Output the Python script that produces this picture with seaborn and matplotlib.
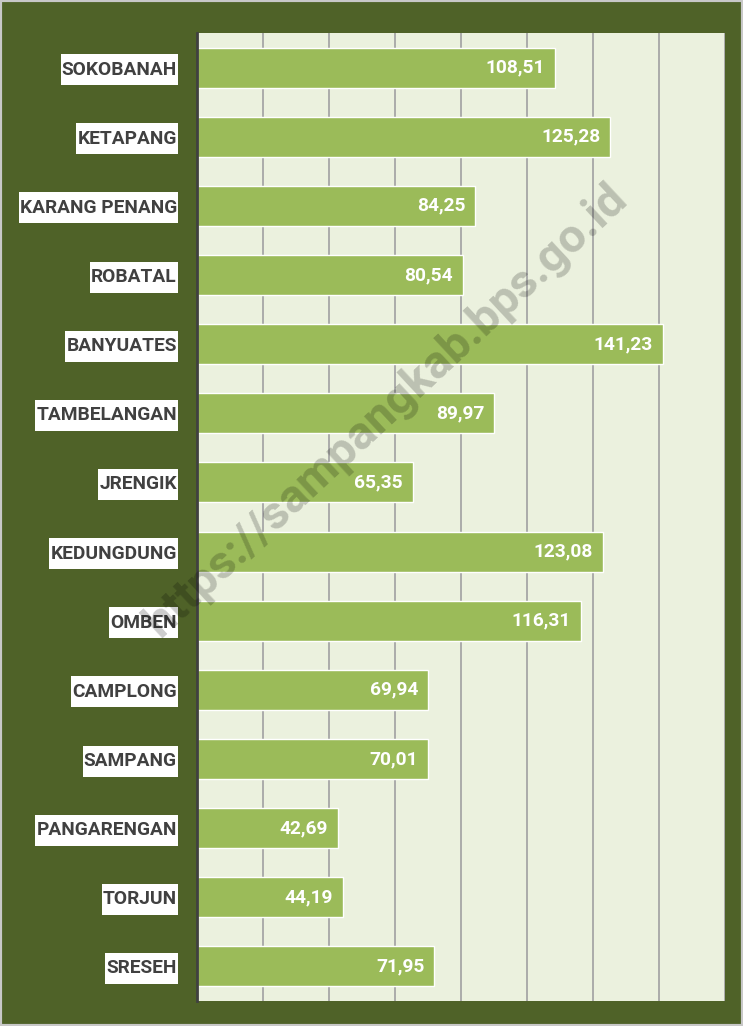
import matplotlib
matplotlib.use("Agg")
import matplotlib.pyplot as plt
import seaborn as sns
import pandas as pd
from matplotlib.patches import Rectangle

kecamatan = ["SOKOBANAH", "KETAPANG", "KARANG PENANG", "ROBATAL", "BANYUATES",
             "TAMBELANGAN", "JRENGIK", "KEDUNGDUNG", "OMBEN", "CAMPLONG",
             "SAMPANG", "PANGARENGAN", "TORJUN", "SRESEH"]
nilai = [108.51, 125.28, 84.25, 80.54, 141.23, 89.97, 65.35, 123.08, 116.31,
         69.94, 70.01, 42.69, 44.19, 71.95]
x_ticks = [0, 20, 40, 60, 80, 100, 120, 140, 160]

df = pd.DataFrame({"kecamatan": kecamatan, "nilai": nilai})

sns.set_theme(style="white")
plt.rcParams['font.family'] = ['Roboto', 'DejaVu Sans']

W, H = 743, 1026
fig = plt.figure(figsize=(W / 100, H / 100), dpi=100)
fig.patch.set_facecolor("#4f6228")
fig.patches.append(Rectangle((0, 0), 1, 1, transform=fig.transFigure,
                             fill=False, edgecolor="#c8c8c8", linewidth=3, zorder=10))

left, right, top, bottom = 197, 725, 33, 1001
ax = fig.add_axes([left / W, 1 - bottom / H, (right - left) / W, (bottom - top) / H])
ax.set_facecolor("#ebf1de")

sns.barplot(data=df, x="nilai", y="kecamatan", orient="h", color="#9bbb59",
            saturation=1, width=0.58, ax=ax, zorder=3)

ax.set_xlim(0, 160)
ax.set_ylim(len(kecamatan) - 0.5, -0.5)
ax.set_xticks(x_ticks)
ax.xaxis.grid(True, color="#a6a6a6", linewidth=1.3, zorder=0)
ax.set_axisbelow(True)
ax.tick_params(axis="x", length=0, labelbottom=False)
ax.tick_params(axis="y", length=0, pad=14.5)
ax.set_xlabel("")
ax.set_ylabel("")
for s in ["top", "right", "bottom"]:
    ax.spines[s].set_visible(False)
ax.spines["left"].set_color("#404040")
ax.spines["left"].set_linewidth(2)
ax.spines["left"].set_zorder(5)

for lab in ax.get_yticklabels():
    lab.set_fontsize(13.8)
    lab.set_fontweight("bold")
    lab.set_color("#404040")

for i, v in enumerate(nilai):
    ax.text(v - 3, i, f"{v:.2f}".replace(".", ","), ha="right", va="center",
            color="white", fontsize=13.8, fontweight="bold", zorder=6)

fig.text(386 / W, 1 - 410 / H, "https://sampangkab.bps.go.id", rotation=43,
         ha="center", va="center", fontsize=34, fontweight="bold",
         color="black", alpha=0.2, zorder=20)

# white boxes behind category labels
fig.canvas.draw()
renderer = fig.canvas.get_renderer()
for lab in ax.get_yticklabels():
    bb = lab.get_window_extent(renderer)
    cy = (bb.y0 + bb.y1) / 2
    bh = 31
    rect = Rectangle((bb.x0 - 1, cy - bh / 2), bb.width + 2, bh, transform=None,
                     facecolor="white", edgecolor="none", zorder=-1)
    fig.patches.append(rect)

fig.savefig("out.png", dpi=100, facecolor=fig.get_facecolor())
